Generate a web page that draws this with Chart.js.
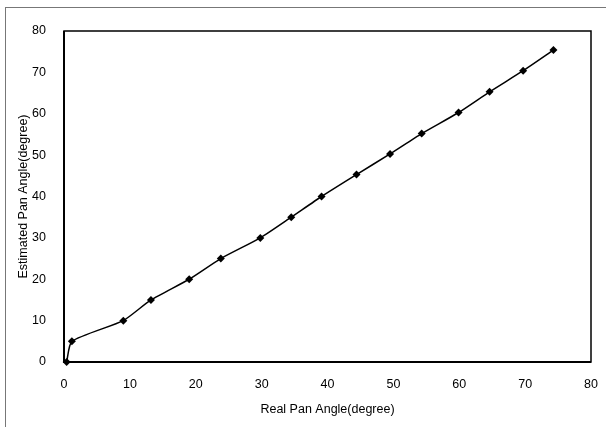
<!DOCTYPE html>
<html>
<head>
<meta charset="utf-8">
<script src="https://cdn.jsdelivr.net/npm/chart.js@4.4.1/dist/chart.umd.min.js"></script>
<style>
  html, body { margin: 0; padding: 0; background: #fff; }
  #wrap { position: relative; width: 606px; height: 427px; overflow: hidden; }
  #frame { position: absolute; left: 5px; top: 7px; width: 640px; height: 460px; border: 1px solid #777; }
  canvas { position: absolute; left: 0; top: 0; }
</style>
</head>
<body>
<div id="wrap">
  <div id="frame"></div>
  <canvas id="chart" width="606" height="427"></canvas>
</div>
<script>
// Real vs estimated pan angle (degrees)
const realAngle = [0.4, 1.2, 9.0, 13.2, 19.0, 23.8, 29.8, 34.5, 39.1, 44.4, 49.5, 54.3, 59.9, 64.6, 69.7, 74.3];
const estAngle = [0, 5, 10, 15, 20, 25, 30, 35, 40, 45.3, 50.3, 55.2, 60.3, 65.3, 70.4, 75.4];
const xTicks = [0, 10, 20, 30, 40, 50, 60, 70, 80];
const yTicks = [0, 10, 20, 30, 40, 50, 60, 70, 80];

const points = realAngle.map(function (x, i) {
  return { x: x, y: estAngle[i] };
});

// draw a box round the plot area
const boxPlugin = {
  id: 'box',
  beforeDatasetsDraw: function (chart) {
    const a = chart.chartArea;
    const ctx = chart.ctx;
    ctx.save();
    ctx.strokeStyle = '#000';
    ctx.lineWidth = 1.5;
    ctx.strokeRect(a.left, a.top, a.right - a.left, a.bottom - a.top);
    ctx.lineWidth = 2;
    ctx.beginPath();
    ctx.moveTo(a.left, a.top);
    ctx.lineTo(a.left, a.bottom);
    ctx.lineTo(a.right, a.bottom);
    ctx.stroke();
    ctx.restore();
  }
};

const font = { family: "'Liberation Sans', Arial, sans-serif", size: 12.5 };

new Chart(document.getElementById('chart'), {
  type: 'scatter',
  data: {
    datasets: [{
      data: points,
      showLine: true,
      borderColor: '#000',
      borderWidth: 1.5,
      backgroundColor: '#000',
      pointStyle: 'rectRot',
      pointRadius: 4,
      pointBorderWidth: 0,
      tension: 0.2,
      clip: false
    }]
  },
  options: {
    responsive: false,
    animation: false,
    layout: { padding: { top: 31, right: 15, left: 0, bottom: 6 } },
    plugins: {
      legend: { display: false },
      tooltip: { enabled: false }
    },
    scales: {
      x: {
        type: 'linear',
        min: 0,
        max: 80,
        afterFit: function (s) { s.height = 59; },
        afterBuildTicks: function (s) { s.ticks = xTicks.map(function (v) { return { value: v }; }); },
        grid: { display: false },
        border: { display: false },
        ticks: { color: '#000', font: font, padding: 7 },
        title: {
          display: true,
          text: 'Real Pan Angle(degree)',
          color: '#000',
          font: font,
          padding: { top: 0 }
        }
      },
      y: {
        type: 'linear',
        min: 0,
        max: 80,
        afterFit: function (s) { s.width = 64; },
        afterBuildTicks: function (s) { s.ticks = yTicks.map(function (v) { return { value: v }; }); },
        grid: { display: false },
        border: { display: false },
        ticks: { color: '#000', font: font, padding: 10 },
        title: {
          display: true,
          text: 'Estimated Pan Angle(degree)',
          color: '#000',
          font: font,
          padding: { top: 16 }
        }
      }
    }
  },
  plugins: [boxPlugin]
});
</script>
</body>
</html>
